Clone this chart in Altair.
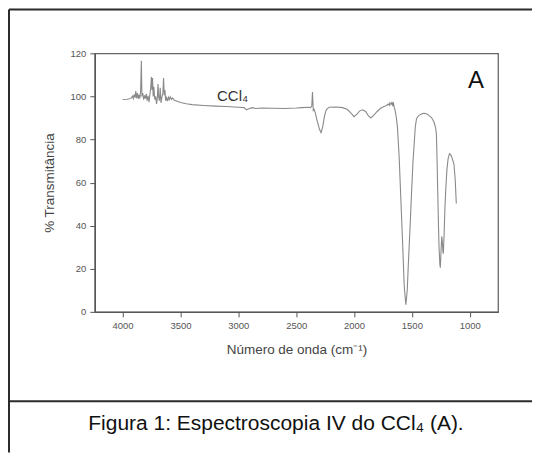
import altair as alt
import pandas as pd

# Spectrum: wavenumber (cm-1) and % transmittance
wavenumber = [
    4000, 3960, 3940, 3925, 3915, 3908, 3900, 3893, 3886, 3880, 3872, 3865,
    3858, 3850, 3844, 3838, 3833, 3826, 3818, 3810, 3802, 3795, 3788, 3780,
    3772, 3764, 3757, 3751, 3746, 3741, 3736, 3730, 3722, 3714, 3707, 3700,
    3694, 3688, 3681, 3675, 3668, 3660, 3652, 3646, 3640, 3634, 3628, 3620,
    3612, 3604, 3596, 3588, 3578, 3568, 3555, 3540, 3500, 3450, 3400, 3300,
    3200, 3100, 3000, 2950, 2930, 2910, 2880, 2850, 2800, 2700, 2600, 2500,
    2450, 2400, 2375, 2365, 2359, 2352, 2345, 2335, 2320, 2300, 2285, 2270,
    2255, 2240, 2215, 2150, 2100, 2060, 2030, 2000, 1975, 1950, 1925, 1900,
    1875, 1855, 1830, 1800, 1770, 1740, 1720, 1705, 1695, 1690, 1680, 1672,
    1665, 1660, 1652, 1645, 1635, 1625, 1610, 1595, 1580, 1566, 1552, 1540,
    1529, 1515, 1503, 1490, 1480, 1470, 1460, 1450, 1437, 1415, 1394, 1370,
    1351, 1330, 1308, 1295, 1288, 1282, 1276, 1270, 1265, 1258, 1254, 1248,
    1242, 1237, 1232, 1228, 1222, 1215, 1207, 1197, 1187, 1175, 1164, 1150,
    1136, 1125, 1116,
]
transmittance = [
    98.6, 98.7, 98.9, 99.3, 100.2, 99.0, 101.0, 99.4, 102.5, 99.2, 101.5, 98.8,
    100.8, 99.0, 103.0, 116.5, 100.0, 101.5, 98.5, 100.5, 99.0, 101.2, 98.0, 100.3,
    97.3, 101.0, 104.0, 109.0, 103.0, 108.5, 100.0, 104.5, 98.5, 100.0, 96.5, 99.0,
    105.8, 99.5, 98.0, 104.0, 97.0, 99.8, 101.5, 108.5, 100.5, 103.0, 98.0, 99.5,
    97.8, 99.6, 98.5, 99.8, 98.6, 99.3, 98.3, 98.0, 97.2, 96.6, 96.2, 95.8,
    95.5, 95.3, 95.0, 94.8, 93.8, 94.3, 94.8, 94.4, 94.6, 94.5, 94.4, 94.6,
    94.8, 95.0, 94.8, 95.5, 102.0, 93.5, 94.0, 92.5, 89.0, 85.0, 83.2, 86.0,
    91.0, 93.8, 95.0, 95.1, 94.8, 94.0, 92.5, 90.6, 91.8, 93.3, 93.8, 93.0,
    91.0, 90.0, 91.2, 93.0, 94.5, 95.3, 95.8, 96.5, 95.8, 97.0, 96.2, 97.5,
    95.5, 97.3, 94.8, 93.5, 90.5, 86.0, 72.0, 52.0, 32.0, 12.0, 3.3, 10.0,
    24.0, 40.0, 55.0, 70.0, 78.0, 86.0, 89.6, 90.5, 91.2, 91.9, 92.2, 91.8,
    91.1, 90.2, 88.0, 85.5, 82.7, 70.0, 55.0, 40.0, 30.0, 22.0, 20.5, 28.0,
    35.0, 33.0, 28.0, 27.0, 35.0, 47.0, 57.0, 66.0, 71.0, 73.4, 73.0, 71.0,
    68.5, 61.0, 50.3,
]

x_ticks = [1000, 1250, 1500, 1750, 2000, 2250, 2500, 2750, 3000, 3250, 3500, 3750, 4000]
y_ticks = [0, 10, 20, 30, 40, 50, 60, 70, 80, 90, 100, 110, 120]

x_title = "Número de onda (cm⁻¹)"
y_title = "% Transmitância"
label_text = ["CCl₄"]
label_x = [3184]
label_y = [100.4]
panel_text = ["A"]
panel_x = [946]
panel_y = [107.3]
caption = "Figura 1: Espectroscopia IV do CCl₄ (A)."

FONT = "Liberation Sans"

df = pd.DataFrame({"wn": wavenumber, "t": transmittance})

x_enc = alt.X(
    "wn:Q",
    title=x_title,
    scale=alt.Scale(domain=[755, 4240], reverse=True, nice=False, zero=False),
    axis=alt.Axis(
        values=x_ticks,
        format="d",
        labelExpr="datum.value % 500 === 0 ? datum.label : ''",
        tickSize={"condition": {"test": "datum.value % 500 === 0", "value": 5}, "value": 3},
        labelOverlap=False,
        labelFontSize=9.5,
        labelColor="#555",
        labelFont=FONT,
        labelPadding=4,
        titleFont=FONT,
        titleFontSize=13.5,
        titleFontWeight="normal",
        titleColor="#444",
        titlePadding=12,
        domainColor="#555",
        domainWidth=1.3,
        tickColor="#555",
        grid=False,
    ),
)
y_enc = alt.Y(
    "t:Q",
    title=y_title,
    scale=alt.Scale(domain=[0, 120], nice=False),
    axis=alt.Axis(
        values=y_ticks,
        labelExpr="datum.value % 20 === 0 ? datum.label : ''",
        tickSize={"condition": {"test": "datum.value % 20 === 0", "value": 5}, "value": 3},
        labelOverlap=False,
        labelFontSize=9.5,
        labelColor="#555",
        labelFont=FONT,
        labelPadding=4,
        titleFont=FONT,
        titleFontSize=13.5,
        titleFontWeight="normal",
        titleColor="#444",
        titlePadding=14,
        domainColor="#555",
        domainWidth=1.3,
        tickColor="#555",
        grid=False,
    ),
)

spectrum = alt.Chart(df).mark_line(color="#8a8a8a", strokeWidth=1.1).encode(x=x_enc, y=y_enc)

lbl = alt.Chart(pd.DataFrame({"x": label_x, "y": label_y, "s": label_text})).mark_text(
    font=FONT, fontSize=15, color="#333", align="left", baseline="middle"
).encode(x="x:Q", y="y:Q", text="s:N")

panel = alt.Chart(pd.DataFrame({"x": panel_x, "y": panel_y, "s": panel_text})).mark_text(
    font=FONT, fontSize=24, color="#111", align="center", baseline="middle"
).encode(x="x:Q", y="y:Q", text="s:N")

one = alt.Data(values=[{"c": caption}])
frame_color = "#2b2b2b"
top_line = alt.Chart(one).mark_rule(color=frame_color, strokeWidth=2).encode(
    x=alt.value(-86), x2=alt.value(438), y=alt.value(-44)
)
left_line = alt.Chart(one).mark_rule(color=frame_color, strokeWidth=2).encode(
    x=alt.value(-86), y=alt.value(-44), y2=alt.value(400)
)
divider = alt.Chart(one).mark_rule(color=frame_color, strokeWidth=2).encode(
    x=alt.value(-86), x2=alt.value(438), y=alt.value(348.5)
)
cap = alt.Chart(one).mark_text(
    font=FONT, fontSize=21, color="#111", align="center", baseline="alphabetic"
).encode(text="c:N", x=alt.value(181.5), y=alt.value(377))

chart = (
    alt.layer(spectrum, lbl, panel, top_line, left_line, divider, cap)
    .properties(width=404, height=259, padding=0, background="white")
    .configure_view(stroke="#666", strokeWidth=1.3)
)

chart.save("out.html", embed_options={"renderer": "svg", "actions": False})
